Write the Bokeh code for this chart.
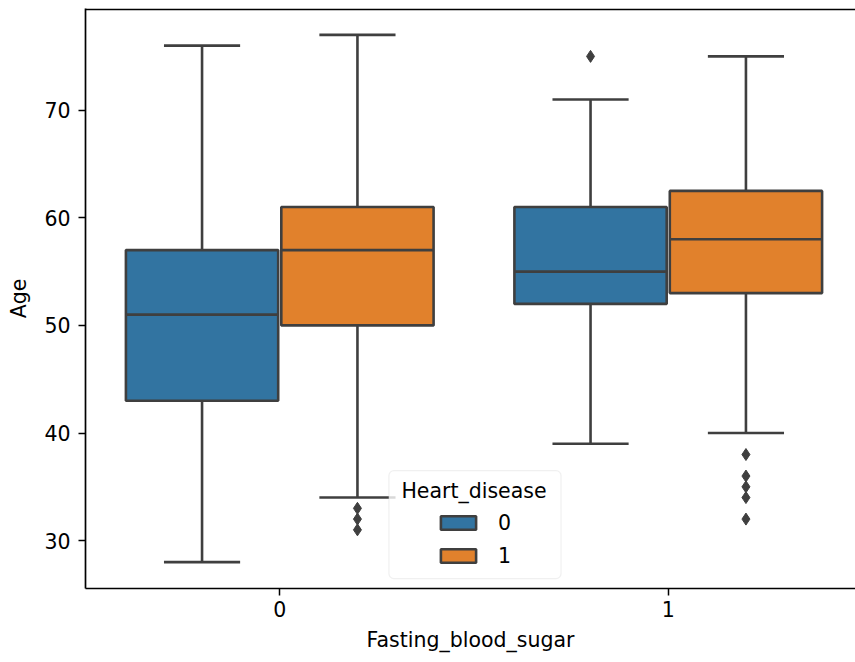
import numpy as np
from bokeh.plotting import figure
from bokeh.models import (Range1d, FixedTicker, ColumnDataSource, Legend, LegendItem,
                          BoxAnnotation, Label, Span)
from bokeh.embed import file_html
from bokeh.resources import INLINE

# Categories
fasting_blood_sugar = ["0", "1"]
heart_disease = ["0", "1"]

# Box statistics per (Fasting_blood_sugar, Heart_disease) group
group_fbs = [0, 0, 1, 1]
group_hd = [0, 1, 0, 1]
whisker_low = [28, 34, 39, 40]
q1 = [43, 50, 52, 53]
median = [51, 57, 55, 58]
q3 = [57, 61, 61, 62.5]
whisker_high = [76, 77, 71, 75]

# Outliers (beyond the whiskers)
outlier_fbs = [0, 0, 0, 1, 1, 1, 1, 1, 1]
outlier_hd = [1, 1, 1, 0, 1, 1, 1, 1, 1]
outlier_age = [33, 32, 31, 75, 38, 36, 35, 34, 32]

palette = ["#3274a1", "#e1812c"]
edge = "#3f3f3f"
FONT = "DejaVu Sans"
FS = "20.5px"
LW = 2.6

box_w = 0.392
dodge = 0.2

xc = [f + (h - 0.5) * 2 * dodge for f, h in zip(group_fbs, group_hd)]
boxes = ColumnDataSource(dict(
    x=xc, q1=q1, q3=q3, med=median, lo=whisker_low, hi=whisker_high,
    left=[x - box_w / 2 for x in xc], right=[x + box_w / 2 for x in xc],
    cl=[x - box_w / 4 for x in xc], cr=[x + box_w / 4 for x in xc],
    color=[palette[h] for h in group_hd],
))
outs = ColumnDataSource(dict(
    x=[f + (h - 0.5) * 2 * dodge for f, h in zip(outlier_fbs, outlier_hd)],
    y=outlier_age,
))

all_vals = whisker_low + whisker_high + outlier_age
span = max(all_vals) - min(all_vals)
y0, y1 = min(all_vals) - 0.05 * span, max(all_vals) + 0.05 * span

p = figure(frame_width=770, frame_height=580, output_backend="svg", toolbar_location=None,
           x_range=Range1d(-0.5, 1.482), y_range=Range1d(y0, y1),
           min_border_left=85, min_border_right=0, min_border_top=8, min_border_bottom=74)
p.outline_line_color = None
p.xgrid.visible = False
p.ygrid.visible = False
p.background_fill_color = "white"
p.border_fill_color = "white"

# whiskers and caps
p.segment(x0="x", y0="q3", x1="x", y1="hi", source=boxes, line_color=edge, line_width=LW)
p.segment(x0="x", y0="q1", x1="x", y1="lo", source=boxes, line_color=edge, line_width=LW)
p.segment(x0="cl", y0="hi", x1="cr", y1="hi", source=boxes, line_color=edge, line_width=LW)
p.segment(x0="cl", y0="lo", x1="cr", y1="lo", source=boxes, line_color=edge, line_width=LW)

# boxes
r_box = p.quad(left="left", right="right", bottom="q1", top="q3", source=boxes,
               fill_color="color", line_color=edge, line_width=LW)
# medians
p.segment(x0="left", y0="med", x1="right", y1="med", source=boxes, line_color=edge, line_width=LW)

# outliers
p.scatter(x="x", y="y", source=outs, marker="diamond", size=12,
          fill_color=edge, line_color=edge, line_width=1)

# top frame line
p.add_layout(Span(location=y1 - 0.08, dimension="width", line_color="black", line_width=1.7))

# axes
p.xaxis.ticker = FixedTicker(ticks=[0, 1])
p.xaxis.major_label_overrides = {i: c for i, c in enumerate(fasting_blood_sugar)}
p.yaxis.ticker = FixedTicker(ticks=[30, 40, 50, 60, 70])
p.xaxis.axis_label = "Fasting_blood_sugar"
p.yaxis.axis_label = "Age"
for ax in (p.xaxis[0], p.yaxis[0]):
    ax.axis_line_color = "black"
    ax.axis_line_width = 1.7
    ax.major_tick_line_color = "black"
    ax.major_tick_line_width = 1.5
    ax.major_tick_out = 7
    ax.major_tick_in = 0
    ax.minor_tick_line_color = None
    ax.major_label_text_font = FONT
    ax.major_label_text_font_size = FS
    ax.major_label_text_color = "black"
    ax.axis_label_text_font = FONT
    ax.axis_label_text_font_size = FS
    ax.axis_label_text_font_style = "normal"
    ax.axis_label_text_color = "black"
p.xaxis.major_label_standoff = 5
p.xaxis.axis_label_standoff = 8
p.yaxis.major_label_standoff = 8
p.yaxis.axis_label_standoff = 10

# legend frame, title and entries
p.add_layout(BoxAnnotation(left=0.281, right=0.724, bottom=26.47, top=36.5,
                           fill_color="white", fill_alpha=0.8,
                           line_color="#cccccc", line_width=1.2, border_radius=5))
p.add_layout(Label(x=0.5, y=34.64, text="Heart_disease", text_align="center",
                   text_baseline="middle", text_font=FONT, text_font_size=FS,
                   text_color="black"))
legend = Legend(items=[LegendItem(label=heart_disease[0], renderers=[r_box], index=0),
                       LegendItem(label=heart_disease[1], renderers=[r_box], index=1)],
                location=(351, 20), glyph_width=44, glyph_height=17,
                label_height=25, spacing=8, padding=0, margin=0, label_standoff=18,
                label_text_font=FONT, label_text_font_size=FS, label_text_color="black",
                border_line_alpha=0, background_fill_alpha=0)
p.add_layout(legend, "center")

open("out.html", "w").write(file_html(p, INLINE))
